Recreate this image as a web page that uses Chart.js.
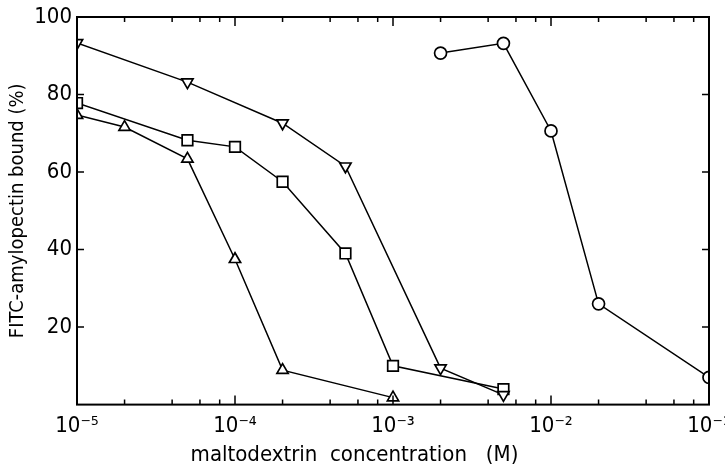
<!DOCTYPE html>
<html>
<head>
<meta charset="utf-8">
<script src="https://cdn.jsdelivr.net/npm/chart.js@4.4.1/dist/chart.umd.min.js"></script>
<style>
  html, body { margin: 0; padding: 0; background: #fff; }
  #c { display: block; }
</style>
</head>
<body>
<canvas id="c" width="725" height="471"></canvas>
<script>
// ---- data ----
const xDownTri = [1e-5, 5e-5, 2e-4, 5e-4, 2e-3, 5e-3];
const yDownTri = [93.3, 83.2, 72.6, 61.5, 9.4, 2.5];

const xSquare = [1e-5, 5e-5, 1e-4, 2e-4, 5e-4, 1e-3, 5e-3];
const ySquare = [77.8, 68.2, 66.5, 57.5, 39.0, 10.0, 4.0];

const xUpTri = [1e-5, 2e-5, 5e-5, 1e-4, 2e-4, 1e-3];
const yUpTri = [74.7, 71.6, 63.4, 37.5, 8.9, 1.8];

const xCircle = [2e-3, 5e-3, 1e-2, 2e-2, 1e-1];
const yCircle = [90.7, 93.2, 70.6, 26.0, 7.0];

const xTickValues = [1e-5, 1e-4, 1e-3, 1e-2, 1e-1];
const xTickLabels = ['10\u207B\u2075', '10\u207B\u2074', '10\u207B\u00B3', '10\u207B\u00B2', '10\u207B\u00B9'];
const xMinorMultipliers = [2, 4, 6, 8];
const yTickValues = [20, 40, 60, 80, 100];
const yTickLabels = ['20', '40', '60', '80', '100'];

const xTitle = 'maltodextrin  concentration   (M)';
const yTitle = 'FITC-amylopectin bound (%)';

const FONT = "'Liberation Sans Narrow', 'DejaVu Sans Condensed', 'Liberation Sans', sans-serif";

function pts(xs, ys) { return xs.map((v, i) => ({ x: v, y: ys[i] })); }

const frameTicks = {
  id: 'frameTicks',
  beforeDatasetsDraw(chart) {
    const { ctx, chartArea: a } = chart;
    ctx.save();
    ctx.beginPath();
    ctx.rect(a.left, a.top, a.right - a.left, a.bottom - a.top);
    ctx.clip();
  },
  afterDatasetsDraw(chart) {
    const { ctx, chartArea: a, scales: { x, y } } = chart;
    ctx.restore();
    ctx.save();
    ctx.strokeStyle = '#000';
    ctx.lineCap = 'butt';
    ctx.lineWidth = 1.5;
    ctx.beginPath();
    const drawX = (v, len) => {
      const px = x.getPixelForValue(v);
      ctx.moveTo(px, a.bottom); ctx.lineTo(px, a.bottom - len);
      ctx.moveTo(px, a.top); ctx.lineTo(px, a.top + len);
    };
    xTickValues.forEach(v => drawX(v, 9));
    for (let i = 0; i < xTickValues.length - 1; i++) {
      xMinorMultipliers.forEach(m => drawX(m * xTickValues[i], 5));
    }
    yTickValues.forEach(v => {
      const py = y.getPixelForValue(v);
      ctx.moveTo(a.left, py); ctx.lineTo(a.left + 7, py);
      ctx.moveTo(a.right, py); ctx.lineTo(a.right - 7, py);
    });
    ctx.stroke();
    ctx.lineWidth = 2;
    ctx.strokeRect(a.left, a.top, a.right - a.left, a.bottom - a.top);
    ctx.restore();
  }
};

const common = {
  borderColor: '#000',
  backgroundColor: '#fff',
  pointBackgroundColor: '#fff',
  pointBorderColor: '#000',
  pointBorderWidth: 1.7,
  borderWidth: 1.5,
  showLine: true,
  tension: 0,
  clip: 0
};

new Chart(document.getElementById('c'), {
  type: 'scatter',
  data: {
    datasets: [
      Object.assign({}, common, { label: 'down triangles', data: pts(xDownTri, yDownTri), pointStyle: 'triangle', pointRotation: 180, pointRadius: 6.5 }),
      Object.assign({}, common, { label: 'squares', data: pts(xSquare, ySquare), pointStyle: 'rect', pointRadius: 7.5 }),
      Object.assign({}, common, { label: 'up triangles', data: pts(xUpTri, yUpTri), pointStyle: 'triangle', pointRadius: 6.5 }),
      Object.assign({}, common, { label: 'circles', data: pts(xCircle, yCircle), pointStyle: 'circle', pointRadius: 6 })
    ]
  },
  options: {
    responsive: false,
    animation: false,
    events: [],
    layout: { padding: { top: 17, right: 16, left: 0, bottom: 0 } },
    plugins: {
      legend: { display: false },
      tooltip: { enabled: false },
      title: {
        display: true,
        position: 'bottom',
        text: xTitle,
        color: '#000',
        font: { family: FONT, size: 22, weight: 'normal' },
        padding: { top: 1, bottom: 3 }
      }
    },
    scales: {
      x: {
        type: 'logarithmic',
        position: 'bottom',
        min: 1e-5,
        max: 1e-1,
        afterBuildTicks: s => { s.ticks = xTickValues.map(v => ({ value: v, major: true })); },
        afterFit: s => { s.height = 36; s.paddingLeft = 0; s.paddingRight = 0; },
        grid: { display: false, drawTicks: false },
        border: { display: false },
        ticks: {
          autoSkip: false,
          maxRotation: 0,
          minRotation: 0,
          padding: 8,
          color: '#000',
          font: { family: FONT, size: 22 },
          callback: (v, i) => xTickLabels[i]
        }
      },
      y: {
        type: 'linear',
        min: 0,
        max: 100,
        afterBuildTicks: s => { s.ticks = yTickValues.map(v => ({ value: v })); },
        afterFit: s => { s.width = 77; s.paddingTop = 0; s.paddingBottom = 0; },
        grid: { display: false, drawTicks: false },
        border: { display: false },
        ticks: {
          padding: 5,
          color: '#000',
          font: { family: FONT, size: 22 },
          callback: (v, i) => yTickLabels[i]
        },
        title: {
          display: true,
          text: yTitle,
          color: '#000',
          font: { family: FONT, size: 20 },
          padding: { top: 6, bottom: 0 }
        }
      }
    }
  },
  plugins: [frameTicks]
});
</script>
</body>
</html>
